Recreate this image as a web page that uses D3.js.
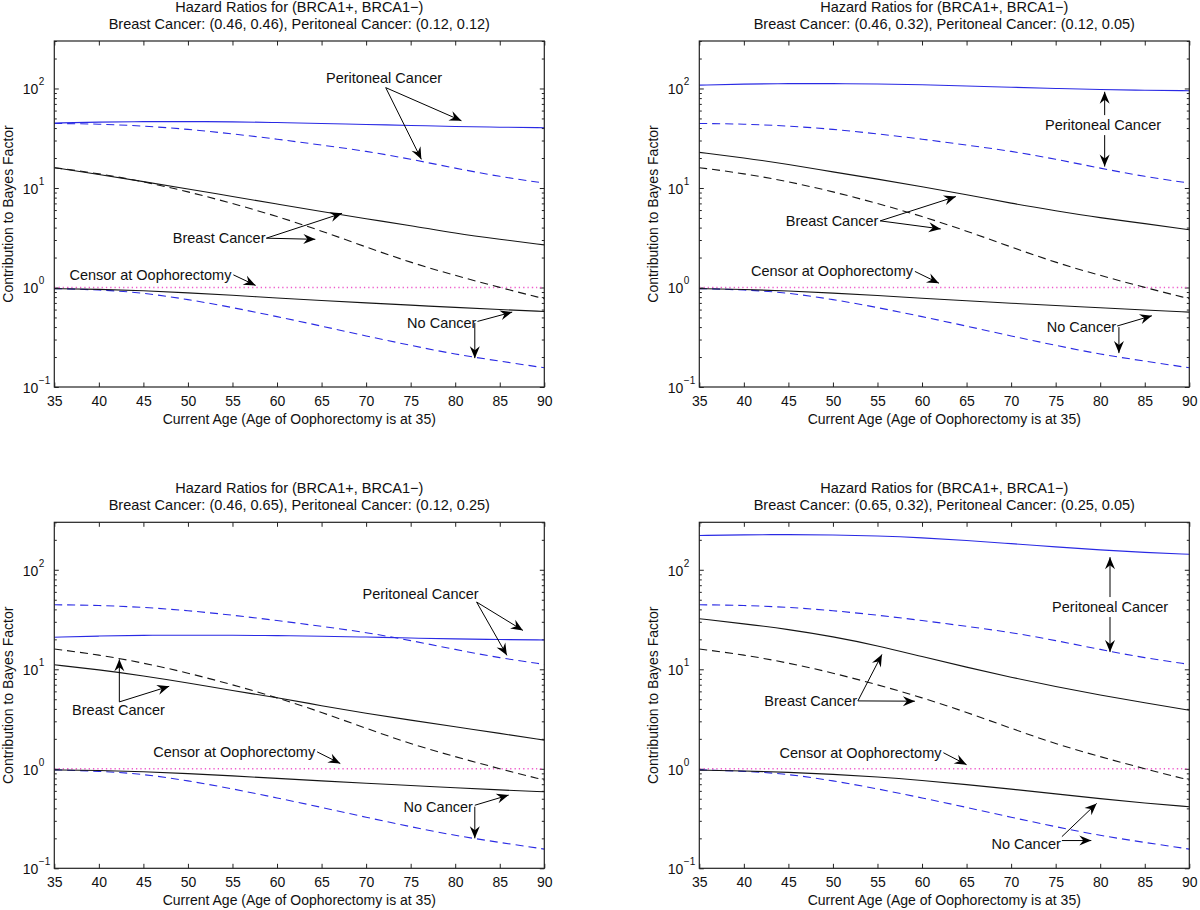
<!DOCTYPE html>
<html><head><meta charset="utf-8">
<script src="https://cdn.jsdelivr.net/npm/d3@7"></script>
<style>
body{margin:0;background:#fff}
text{font-family:"Liberation Sans",Arial,Helvetica,sans-serif;fill:#111}
</style>
</head><body>
<svg id="c" width="1200" height="910"></svg>
<script>
// ---------------- DATA ----------------
const ages = [35,40,45,50,55,60,65,70,75,80,85,90];
const xTickValues = [35,40,45,50,55,60,65,70,75,80,85,90];
const yDecadeExps = [-1,0,1,2];
const yDomain = [0.1, 300];

// curves shared by all panels (dashed)
const periDashed     = [44.5,44,42,39,35,31,27,23.5,19.5,15.8,13,11.2];
const breastDashed   = [16,14,11.6,9.2,7.0,5.2,3.7,2.55,1.78,1.32,1.0,0.77];
const noCancerDashed = [0.975,0.95,0.885,0.76,0.63,0.51,0.41,0.325,0.262,0.213,0.182,0.156];
const censorValues   = [1,1,1,1,1,1,1,1,1,1,1,1];

// panel-specific solid curves
const periSolidA = [45,46,46.5,46.5,46.3,45.5,44.5,43.5,42.5,41.5,40.8,40.3];
const periSolidB = [108,111,112,112,111,109,106,103,100,97.5,96,95];
const periSolidC = [21,21.6,22,22,22,21.8,21.5,21.1,20.6,20.2,19.9,19.7];
const periSolidD = [221,225,226,224,219,210,197,183,170,158,149,143];

const breastSolidA = [16,13.7,11.6,9.8,8.2,6.9,5.8,4.9,4.2,3.5,3.05,2.68];
const breastSolidB = [22.8,20.1,17.3,14.5,12.3,10.3,8.6,7.0,5.9,5.0,4.4,3.8];
const breastSolidC = [11.1,9.9,8.6,7.3,6.1,5.2,4.3,3.6,3.08,2.64,2.27,1.94];
const breastSolidD = [32.2,28.7,25.2,21.3,17.3,13.4,10.5,8.3,6.7,5.5,4.6,3.88];

const noCancerSolidA = [0.975,0.96,0.93,0.885,0.835,0.785,0.74,0.70,0.665,0.63,0.60,0.574];
const noCancerSolidB = [0.975,0.958,0.925,0.88,0.83,0.78,0.735,0.695,0.66,0.625,0.593,0.566];
const noCancerSolidC = [0.975,0.962,0.935,0.895,0.85,0.80,0.755,0.715,0.68,0.645,0.613,0.587];
const noCancerSolidD = [0.97,0.95,0.925,0.88,0.83,0.765,0.695,0.625,0.56,0.50,0.452,0.416];

const titleLine1 = "Hazard Ratios for (BRCA1+, BRCA1\u2212)";
const titleLine2 = [
  "Breast Cancer: (0.46, 0.46), Peritoneal Cancer: (0.12, 0.12)",
  "Breast Cancer: (0.46, 0.32), Peritoneal Cancer: (0.12, 0.05)",
  "Breast Cancer: (0.46, 0.65), Peritoneal Cancer: (0.12, 0.25)",
  "Breast Cancer: (0.65, 0.32), Peritoneal Cancer: (0.25, 0.05)"
];
const xLabel = "Current Age (Age of Oophorectomy is at 35)";
const yLabel = "Contribution to Bayes Factor";

// annotations in data units: text [age, value], arrows [fromAge, fromVal, toAge, toVal]
const annotationsA = [
  {t:"Peritoneal Cancer", a:65.5, v:126, arrows:[[72.2,102,80.7,47.4],[72.2,102,76.2,19.4]]},
  {t:"Breast Cancer", a:48.3, v:3.13, arrows:[[58.8,3.13,67.3,5.57],[58.8,3.13,64.3,3.05]]},
  {t:"Censor at Oophorectomy", a:36.7, v:1.34, arrows:[[55.1,1.34,57.6,1.05]]},
  {t:"No Cancer", a:74.6, v:0.44, arrows:[[82.5,0.456,86.4,0.566],[82.2,0.44,82.2,0.195]]}
];
const annotationsB = [
  {t:"Peritoneal Cancer", a:73.8, v:42.5, arrows:[[80.5,54,80.5,92.6],[80.5,34,80.5,16.4]]},
  {t:"Breast Cancer", a:44.7, v:4.67, arrows:[[55.3,4.67,63.8,8.2],[55.3,4.67,62.1,3.88]]},
  {t:"Censor at Oophorectomy", a:40.8, v:1.45, arrows:[[59.2,1.45,61.9,1.105]]},
  {t:"No Cancer", a:74, v:0.397, arrows:[[81.9,0.41,85.8,0.52],[82.1,0.40,82.1,0.219]]}
];
const annotationsC = [
  {t:"Peritoneal Cancer", a:69.6, v:57.4, arrows:[[82.4,47.4,87.6,24.6],[82.4,47.4,85.8,13.8]]},
  {t:"Breast Cancer", a:37, v:3.88, arrows:[[42.3,4.7,42.3,12.6],[42.3,4.7,47.9,6.75]]},
  {t:"Censor at Oophorectomy", a:46.1, v:1.48, arrows:[[64.5,1.48,67.1,1.13]]},
  {t:"No Cancer", a:74.2, v:0.416, arrows:[[82.2,0.43,86.0,0.544],[82.2,0.416,82.2,0.2]]}
];
const annotationsD = [
  {t:"Peritoneal Cancer", a:74.6, v:42.2, arrows:[[81.1,53.2,81.1,134],[81.1,33.5,81.1,14.9]]},
  {t:"Breast Cancer", a:42.3, v:4.81, arrows:[[52.8,4.81,55.5,14.1],[52.8,4.81,59.2,4.78]]},
  {t:"Censor at Oophorectomy", a:44, v:1.45, arrows:[[62.4,1.45,65,1.1]]},
  {t:"No Cancer", a:67.8, v:0.174, arrows:[[75.7,0.208,79.6,0.449],[75.7,0.19,79,0.19]]}
];

// ---------------- LAYOUT ----------------
const W = 490, H = 346;
const lefts = [54.3, 699.3], tops = [41, 522.3];
const BLUE = "#2a2ae4", BLACK = "#151515", PINK = "#ee5ccc";
const FS = 14, AFS = 14.5;

const panels = [
  {col:0,row:0,title:titleLine2[0],peri:periSolidA,breast:breastSolidA,nc:noCancerSolidA,ann:annotationsA},
  {col:1,row:0,title:titleLine2[1],peri:periSolidB,breast:breastSolidB,nc:noCancerSolidB,ann:annotationsB},
  {col:0,row:1,title:titleLine2[2],peri:periSolidC,breast:breastSolidC,nc:noCancerSolidC,ann:annotationsC},
  {col:1,row:1,title:titleLine2[3],peri:periSolidD,breast:breastSolidD,nc:noCancerSolidD,ann:annotationsD}
];

const svg = d3.select("#c");
const defs = svg.append("defs");
defs.append("marker").attr("id","ah").attr("viewBox","-13 -6 14 12")
  .attr("refX",0).attr("refY",0).attr("markerWidth",14).attr("markerHeight",12)
  .attr("markerUnits","userSpaceOnUse").attr("orient","auto")
  .append("path").attr("d","M0,0 L-12,-5 L-8,0 L-12,5 Z").attr("fill","#000");

const minorVals = [];
for (const e of [-1,0,1,2]) for (let m=2;m<=9;m++){ const v=m*Math.pow(10,e); if (v<=300) minorVals.push(v); }

panels.forEach(p => {
  const L = lefts[p.col], T = tops[p.row];
  const g = svg.append("g").attr("transform",`translate(${L},${T})`);
  const x = d3.scaleLinear().domain([35,90]).range([0,W]);
  const y = d3.scaleLog().domain(yDomain).range([H,0]);

  // titles
  g.append("text").attr("x",W/2).attr("y",-34).attr("text-anchor","middle")
    .attr("dominant-baseline","central").attr("font-size",14.5).text(titleLine1);
  g.append("text").attr("x",W/2).attr("y",-17).attr("text-anchor","middle")
    .attr("dominant-baseline","central").attr("font-size",14.5).text(p.title);

  // axes (inward ticks)
  const axB = g.append("g").attr("transform",`translate(0,${H})`)
    .call(d3.axisBottom(x).tickValues(xTickValues).tickSize(-4.5).tickPadding(9).tickFormat(d3.format("d")));
  const axT = g.append("g").call(d3.axisTop(x).tickValues(xTickValues).tickSize(-4.5).tickFormat(""));
  const axL = g.append("g").call(d3.axisLeft(y).tickValues(yDecadeExps.map(e=>Math.pow(10,e))).tickSize(-4.5).tickFormat(""));
  const axLm = g.append("g").call(d3.axisLeft(y).tickValues(minorVals).tickSize(-2.5).tickFormat(""));
  const axR = g.append("g").attr("transform",`translate(${W},0)`)
    .call(d3.axisRight(y).tickValues(yDecadeExps.map(e=>Math.pow(10,e))).tickSize(-4.5).tickFormat(""));
  const axRm = g.append("g").attr("transform",`translate(${W},0)`)
    .call(d3.axisRight(y).tickValues(minorVals).tickSize(-2.5).tickFormat(""));
  [axB,axT,axL,axLm,axR,axRm].forEach(a=>{
    a.select(".domain").remove();
    a.selectAll(".tick line").attr("stroke","#222").attr("stroke-width",1);
  });
  axB.selectAll(".tick text").attr("font-size",FS).attr("fill","#111")
    .attr("font-family",'"Liberation Sans",Arial,sans-serif');

  // y decade labels 10^e
  yDecadeExps.forEach(e=>{
    const yy = y(Math.pow(10,e));
    g.append("text").attr("x",-16).attr("y",yy+1).attr("text-anchor","end")
      .attr("dominant-baseline","central").attr("font-size",FS).text("10");
    g.append("text").attr("x",-15.5).attr("y",yy-6.5).attr("text-anchor","start")
      .attr("dominant-baseline","central").attr("font-size",10)
      .text(e<0 ? "\u2212"+Math.abs(e) : String(e));
  });

  // axis labels
  g.append("text").attr("x",W/2).attr("y",H+32).attr("text-anchor","middle")
    .attr("dominant-baseline","central").attr("font-size",FS).text(xLabel);
  g.append("text").attr("transform",`translate(-46.5,${H/2}) rotate(-90)`)
    .attr("text-anchor","middle").attr("dominant-baseline","central")
    .attr("font-size",FS).text(yLabel);

  const line = d3.line().x((d,i)=>x(ages[i])).y(d=>y(d)).curve(d3.curveBasis);
  const draw = (vals,color,dash,w)=>g.append("path").datum(vals).attr("d",line)
    .attr("fill","none").attr("stroke",color).attr("stroke-width",w||1.1)
    .attr("stroke-dasharray",dash||null);

  draw(censorValues,PINK,"1.3,3",1.4);
  draw(periDashed,BLUE,"8,5");
  draw(breastDashed,BLACK,"8,5");
  draw(noCancerDashed,BLUE,"8,5");
  draw(p.peri,BLUE);
  draw(p.breast,BLACK);
  draw(p.nc,BLACK);

  // box
  g.append("rect").attr("x",0).attr("y",0).attr("width",W).attr("height",H)
    .attr("fill","none").attr("stroke","#222").attr("stroke-width",1.2);

  // annotations
  p.ann.forEach(an=>{
    g.append("text").attr("x",x(an.a)).attr("y",y(an.v)).attr("text-anchor","start")
      .attr("dominant-baseline","central").attr("font-size",AFS).text(an.t);
    an.arrows.forEach(ar=>{
      g.append("line").attr("x1",x(ar[0])).attr("y1",y(ar[1]))
        .attr("x2",x(ar[2])).attr("y2",y(ar[3]))
        .attr("stroke","#000").attr("stroke-width",1).attr("marker-end","url(#ah)");
    });
  });
});
</script>
</body></html>
